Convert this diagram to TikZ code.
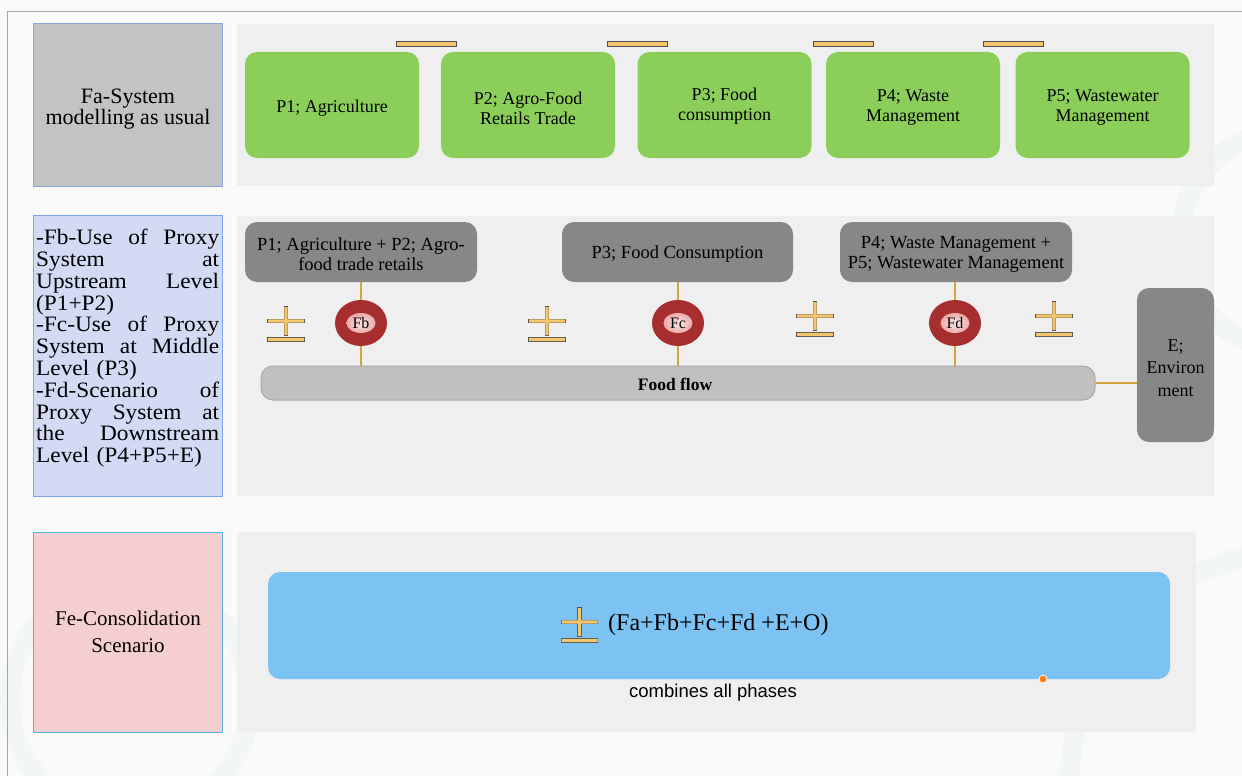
\documentclass[tikz,border=0pt]{standalone}
\usepackage{fontspec}
\setmainfont{Liberation Serif}
\newfontfamily\legendserif{Liberation Serif}[FakeStretch=1.06]
\newfontfamily\captionsans{Liberation Sans}
\usetikzlibrary{shapes.geometric}

\definecolor{pagebg}{HTML}{FAFAFA}
\definecolor{panelbg}{HTML}{EFEFEF}
\definecolor{framegray}{HTML}{A6A6A6}
\definecolor{wmark}{HTML}{F3F6F7}
\definecolor{procgreen}{HTML}{8BCF5A}
\definecolor{proxygray}{HTML}{878787}
\definecolor{flowgray}{HTML}{C0C0C0}
\definecolor{flowedge}{HTML}{A9A9A9}
\definecolor{linkgold}{HTML}{D2A443}
\definecolor{signfill}{HTML}{F4C66E}
\definecolor{signedge}{HTML}{505050}
\definecolor{ringred}{HTML}{A62E2F}
\definecolor{ringpinkin}{HTML}{FBE6E6}
\definecolor{ringpinkout}{HTML}{EDA9A9}
\definecolor{fabox}{HTML}{C3C3C3}
\definecolor{faedge}{HTML}{86A8DC}
\definecolor{fbbox}{HTML}{D2DAF4}
\definecolor{fbedge}{HTML}{7EA4EE}
\definecolor{febox}{HTML}{F5CFD0}
\definecolor{feedge}{HTML}{5AB2E0}
\definecolor{sumblue}{HTML}{7CC2F2}
\definecolor{dotorange}{HTML}{FF7F0E}

% one fully justified line of the Fb/Fc/Fd legend (words separated by \hfill)
\newcommand\jline[1]{\makebox[183pt][l]{#1}}

\tikzset{
  panel/.style={fill=panelbg, draw=none},
  legendbox/.style={rectangle, inner sep=0pt, line width=0.9pt},
  proc/.style={rectangle, rounded corners=12pt, fill=procgreen,
    minimum width=174pt, minimum height=106pt, inner sep=0pt, align=center,
    font=\fontsize{18}{20}\selectfont},
  proxy/.style={rectangle, rounded corners=12pt, fill=proxygray,
    minimum height=60pt, inner sep=0pt, align=center,
    font=\fontsize{18.5}{20.5}\selectfont},
  ring/.style={ellipse, fill=ringred, minimum width=52pt, minimum height=46pt, inner sep=0pt},
  core/.style={ellipse, inner color=ringpinkin, outer color=ringpinkout,
    minimum width=29pt, minimum height=20pt, inner sep=0pt,
    font=\fontsize{16}{16}\selectfont},
  link/.style={draw=linkgold, line width=2pt},
  topbar/.style={rectangle, fill=signfill, draw=signedge, line width=0.9pt,
    minimum width=60pt, minimum height=5pt, inner sep=0pt},
  pmsign/.pic={
    \path[draw=signedge, line width=1.3pt]
      (-18,-1.6) rectangle (18,1.6) (-1.6,-14) rectangle (1.6,14) (-18,16.8) rectangle (18,20.2);
    \path[fill=signfill]
      (-18,-1.6) rectangle (18,1.6) (-1.6,-14) rectangle (1.6,14) (-18,16.8) rectangle (18,20.2);
  }
}

\begin{document}
\begin{tikzpicture}[x=1pt,y=-1pt]
\useasboundingbox (0,0) rectangle (1242,776);
\fill[pagebg] (0,0) rectangle (1242,776);

% faint background watermark rings
\begin{scope}
  \clip (0,0) rectangle (1242,776);
  \draw[wmark, line width=20pt] (130,700) circle (120);
  \draw[wmark, line width=20pt] (1290,240) circle (110);
  \draw[wmark, line width=20pt] (1300,780) circle (230);
\end{scope}

% outer frame
\draw[framegray, line width=1pt] (7,776) -- (7,12) -- (1242,12);

% background panels of the three rows
\path[panel] (237,24) rectangle (1214,186);
\path[panel] (237,216) rectangle (1214,496);
\path[panel] (237,532) rectangle (1196,732);

% ---------- row Fa ----------
\node[legendbox, fill=fabox, draw=faedge, minimum width=189pt, minimum height=163pt] (fa) at (128,104.5) {};
\node[font=\fontsize{22}{20.5}\selectfont, align=center, inner sep=0pt] (fatext) at (128,109) {Fa-System\\modelling as usual};

\node[proc] (p1) at (332,105) {};
\node[proc] (p2) at (528,105) {};
\node[proc] (p3) at (724.5,105) {};
\node[proc] (p4) at (913,105) {};
\node[proc] (p5) at (1102.5,105) {};
\node[proc, fill=none] (p1text) at (332,108) {P1; Agriculture};
\node[proc, fill=none] (p2text) at (528,108) {P2; Agro-Food\\Retails Trade};
\node[proc, fill=none] (p3text) at (724.5,106) {P3; Food\\consumption};
\node[proc, fill=none] (p4text) at (913,108) {P4; Waste\\Management};
\node[proc, fill=none] (p5text) at (1102.5,108) {P5; Wastewater\\Management};

\node[topbar] (bar1) at (426,43.5) {};
\node[topbar] (bar2) at (637,43.5) {};
\node[topbar] (bar3) at (843,43.5) {};
\node[topbar] (bar4) at (1013,43.5) {};

% ---------- row Fb / Fc / Fd ----------
\node[legendbox, fill=fbbox, draw=fbedge, minimum width=189pt, minimum height=281pt] (fb) at (128,356) {};
\node[font=\legendserif\fontsize{22}{21.8}\selectfont, text width=183pt, align=left, inner sep=0pt, anchor=north west] (fbtext) at (36,229) {%
\jline{-Fb-Use\hfill of\hfill Proxy}\\
\jline{System\hfill at}\\
\jline{Upstream\hfill Level}\\
(P1+P2)\\
\jline{-Fc-Use\hfill of\hfill Proxy}\\
\jline{System\hfill at\hfill Middle}\\
Level (P3)\\
\jline{-Fd-Scenario\hfill of}\\
\jline{Proxy\hfill System\hfill at}\\
\jline{the\hfill Downstream}\\
Level (P4+P5+E)};

\node[proxy, minimum width=232pt] (up) at (361,252) {};
\node[proxy, minimum width=231pt] (mid) at (677.5,252) {};
\node[proxy, minimum width=232pt] (down) at (956,252) {};
\node[proxy, fill=none] (uptext) at (361,254) {P1; Agriculture + P2; Agro-\\food trade retails};
\node[proxy, fill=none] (midtext) at (677.5,254) {P3; Food Consumption};
\node[proxy, fill=none] (downtext) at (956,254.5) {P4; Waste Management +\\P5; Wastewater Management};
\node[proxy, minimum width=77pt, minimum height=154pt] (env) at (1175.5,365) {};
\node[proxy, fill=none, font=\fontsize{18}{22.5}\selectfont] (envtext) at (1175.5,368) {E;\\Environ\\ment};

\node[rectangle, rounded corners=12pt, fill=flowgray, draw=flowedge, line width=1pt,
  minimum width=834pt, minimum height=34pt, inner sep=0pt] (flow) at (678,383) {};
\node[font=\fontsize{17.5}{17.5}\selectfont\bfseries, inner sep=0pt] (flowtext) at (675,384) {Food flow};

\node[ring] (rb) at (361,323) {};
\node[ring] (rc) at (678,323) {};
\node[ring] (rd) at (955,323) {};
\node[core] (cb) at (rb) {Fb};
\node[core] (cc) at (rc) {Fc};
\node[core] (cd) at (rd) {Fd};

\draw[link] (up.south -| rb) -- (rb.north);
\draw[link] (rb.south) -- (rb |- flow.north);
\draw[link] (mid.south -| rc) -- (rc.north);
\draw[link] (rc.south) -- (rc |- flow.north);
\draw[link] (down.south -| rd) -- (rd.north);
\draw[link] (rd.south) -- (rd |- flow.north);
\draw[link] (flow.east) -- (env.west |- flow.east);

\pic (pma) at (286,321) {pmsign};
\pic (pmb) at (547,321) {pmsign};
\pic (pmc) at (815,316) {pmsign};
\pic (pmd) at (1054,316) {pmsign};

% ---------- row Fe ----------
\node[legendbox, fill=febox, draw=feedge, minimum width=189pt, minimum height=200pt] (fe) at (128,632) {};
\node[font=\fontsize{21}{27}\selectfont, align=center, inner sep=0pt] (fetext) at (128,632) {Fe-Consolidation\\Scenario};

\node[rectangle, rounded corners=12pt, fill=sumblue, minimum width=902pt, minimum height=107pt, inner sep=0pt] (sum) at (719,625.5) {};
\pic (pme) at (579.5,622) {pmsign};
\node[font=\fontsize{24}{24}\selectfont, anchor=west, inner sep=0pt] (sumtext) at (608,625) {(Fa+Fb+Fc+Fd +E+O)};
\node[font=\captionsans\fontsize{18.5}{18.5}\selectfont, inner sep=0pt] (sumcap) at (713,693) {combines all phases};
\node[circle, fill=dotorange, draw=white, line width=0.8pt, minimum size=8pt, inner sep=0pt] (dot) at (1043,679) {};
\end{tikzpicture}
\end{document}
